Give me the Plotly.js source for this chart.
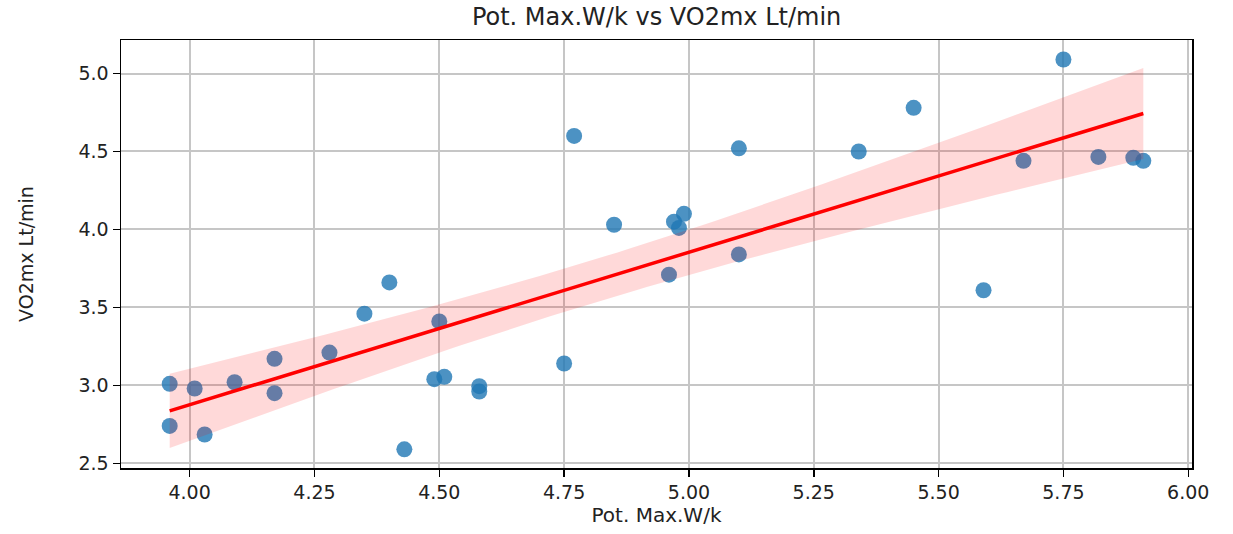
<!DOCTYPE html>
<html>
<head>
<meta charset="utf-8">
<script src="https://cdn.plot.ly/plotly-3.0.1.min.js"></script>
<style>
html,body{margin:0;padding:0;background:#fff;}
#chart{width:1233px;height:534px;}
</style>
</head>
<body>
<div id="chart"></div>
<script>
// Data
const potMaxWk = [3.96, 4.01, 4.09, 4.17, 4.17, 4.28, 3.96, 4.03, 4.35, 4.40, 4.50,
                  4.49, 4.51, 4.58, 4.58, 4.43, 4.77, 4.85, 4.97, 4.99, 4.98, 5.10,
                  5.34, 5.10, 4.96, 4.75, 5.45, 5.75, 5.67, 5.82, 5.89, 5.91, 5.59];
const vo2mxLtMin = [3.01, 2.98, 3.02, 3.17, 2.95, 3.21, 2.74, 2.685, 3.46, 3.66, 3.41,
                    3.04, 3.055, 2.995, 2.96, 2.59, 4.60, 4.03, 4.05, 4.10, 4.01, 4.52,
                    4.50, 3.84, 3.71, 3.14, 4.78, 5.09, 4.44, 4.465, 4.46, 4.44, 3.61];
const xTicks = [4.00, 4.25, 4.50, 4.75, 5.00, 5.25, 5.50, 5.75, 6.00];
const yTicks = [2.5, 3.0, 3.5, 4.0, 4.5, 5.0];
const chartTitle = "Pot. Max.W/k vs VO2mx Lt/min";
const xTitle = "Pot. Max.W/k";
const yTitle = "VO2mx Lt/min";

// Ordinary least squares fit with 95% confidence band (as in a regression plot)
const n = potMaxWk.length;
const mx = potMaxWk.reduce((a, b) => a + b, 0) / n;
const my = vo2mxLtMin.reduce((a, b) => a + b, 0) / n;
let sxx = 0, sxy = 0;
for (let i = 0; i < n; i++) {
  sxx += (potMaxWk[i] - mx) ** 2;
  sxy += (potMaxWk[i] - mx) * (vo2mxLtMin[i] - my);
}
const slope = sxy / sxx;
const intercept = my - slope * mx;
let sse = 0;
for (let i = 0; i < n; i++) {
  const r = vo2mxLtMin[i] - (intercept + slope * potMaxWk[i]);
  sse += r * r;
}
const s = Math.sqrt(sse / (n - 2));
const tCrit = 2.04;
const xMin = Math.min(...potMaxWk), xMax = Math.max(...potMaxWk);
const gridX = [], fitY = [], lowY = [], highY = [];
const steps = 100;
for (let k = 0; k <= steps; k++) {
  const xv = xMin + (xMax - xMin) * k / steps;
  const yv = intercept + slope * xv;
  const se = s * Math.sqrt(1 / n + (xv - mx) ** 2 / sxx);
  gridX.push(xv); fitY.push(yv);
  lowY.push(yv - tCrit * se); highY.push(yv + tCrit * se);
}

const traces = [
  {
    x: potMaxWk, y: vo2mxLtMin, type: "scatter", mode: "markers",
    marker: {color: "#1f77b4", size: 16, opacity: 0.8, line: {width: 0}},
    hoverinfo: "x+y", showlegend: false
  },
  {
    x: gridX, y: lowY, type: "scatter", mode: "lines",
    line: {width: 0, color: "rgba(255,0,0,0)"}, hoverinfo: "skip", showlegend: false
  },
  {
    x: gridX, y: highY, type: "scatter", mode: "lines", fill: "tonexty",
    fillcolor: "rgba(255,0,0,0.15)",
    line: {width: 0, color: "rgba(255,0,0,0)"}, hoverinfo: "skip", showlegend: false
  },
  {
    x: gridX, y: fitY, type: "scatter", mode: "lines",
    line: {color: "#ff0000", width: 3.5}, hoverinfo: "skip", showlegend: false
  }
];

const axisCommon = {
  showgrid: true, gridcolor: "#c6c6c6", gridwidth: 2,
  zeroline: false, showline: true, linecolor: "#000", linewidth: 1.5, mirror: true,
  ticks: "outside", ticklen: 7, tickwidth: 1.5, tickcolor: "#000",
  tickfont: {family: "DejaVu Sans", size: 19, color: "#222"}
};

const layout = {
  width: 1233, height: 534,
  paper_bgcolor: "#fff", plot_bgcolor: "#fff",
  margin: {l: 121, r: 41, t: 40, b: 66},
  title: {
    text: chartTitle, x: 0.5325, xanchor: "center", y: 0.985, yanchor: "top",
    font: {family: "DejaVu Sans", size: 24, color: "#222"}
  },
  xaxis: Object.assign({}, axisCommon, {
    range: [3.8625, 6.0075], tickvals: xTicks,
    ticktext: xTicks.map(v => v.toFixed(2)),
    title: {text: xTitle, standoff: 4, font: {family: "DejaVu Sans", size: 20, color: "#222"}}
  }),
  yaxis: Object.assign({}, axisCommon, {
    range: [2.47, 5.215], tickvals: yTicks,
    ticktext: yTicks.map(v => v.toFixed(1)),
    title: {text: yTitle, standoff: 40, font: {family: "DejaVu Sans", size: 19, color: "#222"}}
  }),
  showlegend: false
};

Plotly.newPlot("chart", traces, layout, {displayModeBar: false, staticPlot: true});
</script>
</body>
</html>
